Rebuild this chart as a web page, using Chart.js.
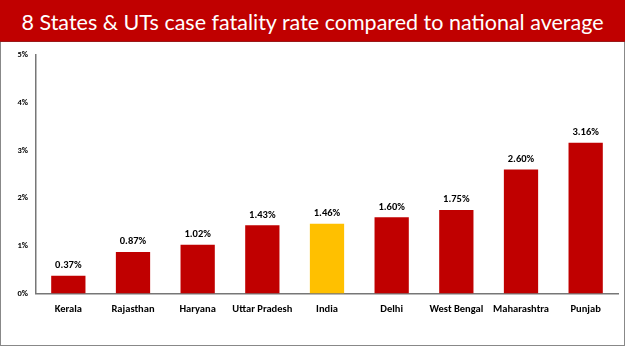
<!DOCTYPE html>
<html><head><meta charset="utf-8">
<script src="https://cdn.jsdelivr.net/npm/chart.js@4/dist/chart.umd.min.js"></script>
<style>
html,body{margin:0;padding:0;background:#fff;width:625px;height:351px;overflow:hidden;}
#hdr{position:absolute;left:0;top:0;width:625px;height:42px;background:#C00000;color:#fff;font-family:Lato,"Open Sans",sans-serif;font-size:21.5px;line-height:44px;text-align:center;border-bottom:1px solid #9a1a1a;box-sizing:border-box;}
#box{position:absolute;left:0;top:42px;width:623px;height:303px;border-left:1px solid #888;border-right:1px solid #888;border-bottom:1px solid #888;}
#wrap{position:absolute;left:1px;top:0;width:622px;height:302px;}
</style></head><body>
<div id="hdr">8 States &amp; UTs case fatality rate compared to national average</div>
<div id="box"><div id="wrap"><canvas id="c" width="622" height="302"></canvas></div></div>
<script>
const categories = ["Kerala","Rajasthan","Haryana","Uttar Pradesh","India","Delhi","West Bengal","Maharashtra","Punjab"];
const fatalityRate = [0.37,0.87,1.02,1.43,1.46,1.60,1.75,2.60,3.16];
const highlight = "India";
const yTicks = [0,1,2,3,4,5];

const valueLabels = {
  id:'valueLabels',
  afterDatasetsDraw(chart){
    const ctx = chart.ctx;
    const meta = chart.getDatasetMeta(0);
    ctx.save();
    ctx.font = 'bold 10.5px Carlito, Calibri, "Liberation Sans", Arial, sans-serif';
    ctx.fillStyle = '#000';
    ctx.textAlign = 'center';
    ctx.textBaseline = 'bottom';
    meta.data.forEach((bar,i)=>{
      ctx.fillText(fatalityRate[i].toFixed(2)+'%', bar.x, bar.y-5);
    });
    ctx.restore();
  }
};

new Chart(document.getElementById('c'),{
  type:'bar',
  data:{labels:categories,datasets:[{
    data:fatalityRate,
    backgroundColor:categories.map(c=>c===highlight?'#FFC000':'#C00000'),
    barPercentage:0.53,categoryPercentage:1.0
  }]},
  options:{
    responsive:false,animation:false,
    layout:{padding:{left:0,right:6,top:5,bottom:18}},
    plugins:{legend:{display:false},tooltip:{enabled:false}},
    scales:{
      x:{grid:{display:false,drawTicks:false},border:{display:true,color:'#777',width:1.5},
         ticks:{color:'#000',padding:10,font:{family:'Carlito, Calibri, "Liberation Sans", Arial, sans-serif',size:10.5,weight:'bold'},maxRotation:0,autoSkip:false}},
      y:{min:0,max:5,afterBuildTicks:(s)=>{s.ticks=yTicks.map(v=>({value:v}));},
         afterFit:(s)=>{s.width=34;},
         grid:{display:false,drawTicks:false},border:{display:true,color:'#777',width:1.5},
         ticks:{color:'#000',padding:8,font:{family:'Carlito, Calibri, "Liberation Sans", Arial, sans-serif',size:8.5,weight:'bold'},callback:v=>v+'%'}}
    }
  },
  plugins:[valueLabels]
});
</script>
</body></html>
